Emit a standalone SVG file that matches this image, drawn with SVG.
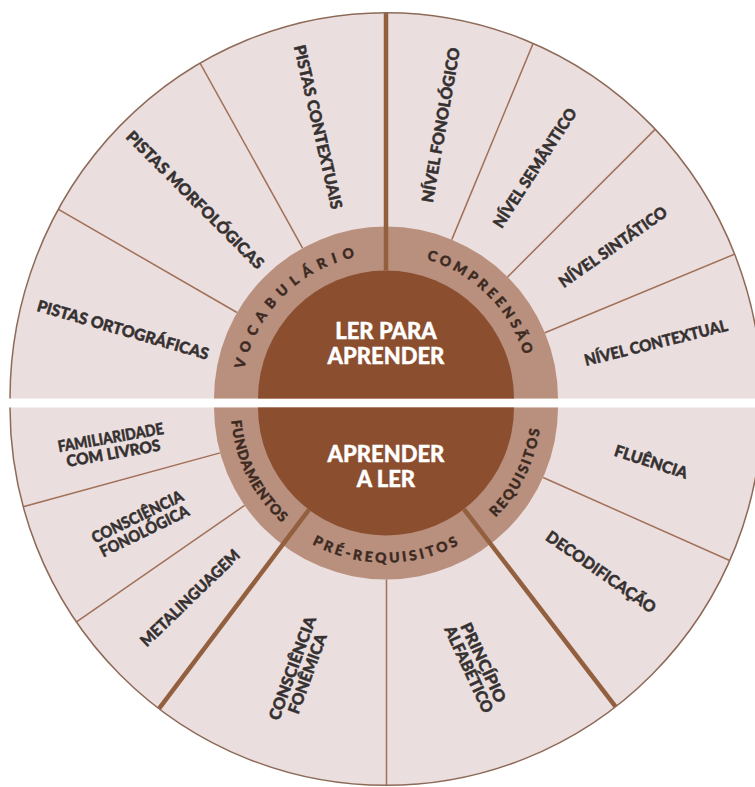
<svg xmlns="http://www.w3.org/2000/svg" width="755" height="787" viewBox="0 0 755 787">
<defs>
<style>
.band{fill:#ebdede}
.ring{fill:#b98f7d}
.core{fill:#8b4e2f}
.edge{fill:none;stroke:#8d6a57;stroke-width:1.5}
.thin{stroke:#a07058;stroke-width:1.5}
.thick{stroke:#93603f;stroke-width:4.5}
.lbl{font-family:Lato,'Open Sans',sans-serif;font-weight:900;font-size:16px;fill:#353131;stroke:#353131;stroke-width:0.45;text-anchor:middle}
.rl{font-family:Lato,'Open Sans',sans-serif;font-weight:900;font-size:14px;fill:#3b2a22;stroke:#3b2a22;stroke-width:0.4}
.ct{font-family:Lato,'Open Sans',sans-serif;font-weight:900;font-size:22px;fill:#ffffff;stroke:#ffffff;stroke-width:0.4;text-anchor:middle}
</style>
<clipPath id="clipTop"><path d="M 10 398.5 A 376 386 0 0 1 762 398.5 Z"/></clipPath>
<clipPath id="clipBot"><path d="M 10 407.5 A 376 378 0 0 0 762 407.5 Z"/></clipPath>
<path id="pVoc" d="M 241.25 398.5 A 144.75 144.75 0 0 1 386 253.75"/>
<path id="pComp" d="M 386 253.75 A 144.75 144.75 0 0 1 530.75 398.5"/>
<path id="pFund" d="M 230.75 407.5 A 155.25 155.25 0 0 0 292.57 531.48"/>
<path id="pPre" d="M 292.57 531.48 A 155.25 155.25 0 0 0 480.52 530.67"/>
<path id="pReq" d="M 480.52 530.67 A 155.25 155.25 0 0 0 541.25 407.5"/>
</defs>
<rect width="755" height="787" fill="#ffffff"/>
<g id="background">
<path class="band" d="M 10 398.5 A 376 386 0 0 1 762 398.5 Z"/>
<path class="band" d="M 10 407.5 A 376 378 0 0 0 762 407.5 Z"/>
<path class="ring" d="M 214 398.5 A 172 172 0 0 1 558 398.5 Z"/>
<path class="ring" d="M 214 407.5 A 172 172 0 0 0 558 407.5 Z"/>
<path class="core" d="M 258 398.5 A 128 128 0 0 1 514 398.5 Z"/>
<path class="core" d="M 258 407.5 A 128 128 0 0 0 514 407.5 Z"/>
</g>
<g id="connectors">
<g clip-path="url(#clipTop)">
<line class="thin" x1="302.6" y1="248.1" x2="177.5" y2="22.4"/>
<line class="thin" x1="237.0" y1="312.5" x2="13.6" y2="183.5"/>
<line class="thin" x1="451.8" y1="239.6" x2="550.6" y2="1.2"/>
<line class="thin" x1="507.6" y1="276.9" x2="690.1" y2="94.4"/>
<line class="thin" x1="544.9" y1="332.7" x2="783.3" y2="234.0"/>
<line class="thick" x1="386" y1="270.5" x2="386" y2="0"/>
</g>
<g clip-path="url(#clipBot)">
<line class="thin" x1="220.1" y1="452.9" x2="-28.8" y2="521"/>
<line class="thin" x1="244.6" y1="505.4" x2="32.5" y2="652.3"/>
<line class="thin" x1="386.5" y1="579.5" x2="386.5" y2="800"/>
<line class="thin" x1="543.1" y1="477.5" x2="778.8" y2="582.4"/>
<line class="thick" x1="309.0" y1="509.7" x2="127.2" y2="750.9"/>
<line class="thick" x1="463.9" y1="509.1" x2="647.8" y2="748.7"/>
</g>
<path class="edge" d="M 10 398.5 A 376 386 0 0 1 762 398.5"/>
<path class="edge" d="M 10 407.5 A 376 378 0 0 0 762 407.5"/>
</g>
<g id="center-top"><text class="ct"><tspan x="386" y="339">LER PARA</tspan><tspan x="386" y="364">APRENDER</tspan></text></g>
<g id="center-bottom"><text class="ct"><tspan x="386" y="462">APRENDER</tspan><tspan x="386" y="487">A LER</tspan></text></g>
<g id="ring-vocabulario"><text class="rl" letter-spacing="6.5"><textPath href="#pVoc" startOffset="51%" text-anchor="middle">VOCABULÁRIO</textPath></text></g>
<g id="ring-compreensao"><text class="rl" letter-spacing="3.5"><textPath href="#pComp" startOffset="50%" text-anchor="middle">COMPREENSÃO</textPath></text></g>
<g id="ring-fundamentos"><text class="rl" letter-spacing="0.8"><textPath href="#pFund" startOffset="50%" text-anchor="middle">FUNDAMENTOS</textPath></text></g>
<g id="ring-prerequisitos"><text class="rl" letter-spacing="3"><textPath href="#pPre" startOffset="50%" text-anchor="middle">PRÉ-REQUISITOS</textPath></text></g>
<g id="ring-requisitos"><text class="rl" letter-spacing="2"><textPath href="#pReq" startOffset="50%" text-anchor="middle">REQUISITOS</textPath></text></g>
<g id="pistas-contextuais"><text class="lbl" transform="translate(318,127) rotate(77)" y="5.5" textLength="168" lengthAdjust="spacingAndGlyphs">PISTAS CONTEXTUAIS</text></g>
<g id="pistas-morfologicas"><text class="lbl" transform="translate(195,200) rotate(45)" y="5.5" textLength="187" lengthAdjust="spacingAndGlyphs">PISTAS MORFOLÓGICAS</text></g>
<g id="pistas-ortograficas"><text class="lbl" transform="translate(123,330) rotate(16)" y="5.5" textLength="178" lengthAdjust="spacingAndGlyphs">PISTAS ORTOGRÁFICAS</text></g>
<g id="nivel-fonologico"><text class="lbl" transform="translate(441,125) rotate(-80)" y="5.5" textLength="157" lengthAdjust="spacingAndGlyphs">NÍVEL FONOLÓGICO</text></g>
<g id="nivel-semantico"><text class="lbl" transform="translate(535,168) rotate(-57)" y="5.5" textLength="139" lengthAdjust="spacingAndGlyphs">NÍVEL SEMÂNTICO</text></g>
<g id="nivel-sintatico"><text class="lbl" transform="translate(613,247) rotate(-35)" y="5.5" textLength="128" lengthAdjust="spacingAndGlyphs">NÍVEL SINTÁTICO</text></g>
<g id="nivel-contextual"><text class="lbl" transform="translate(656,343) rotate(-14)" y="5.5" textLength="147" lengthAdjust="spacingAndGlyphs">NÍVEL CONTEXTUAL</text></g>
<g id="familiaridade" transform="translate(112,445.5) rotate(-10)"><text class="lbl" y="-2.5" textLength="107" lengthAdjust="spacingAndGlyphs">FAMILIARIDADE</text><text class="lbl" y="13.5" textLength="95" lengthAdjust="spacingAndGlyphs">COM LIVROS</text></g>
<g id="consciencia-fonologica" transform="translate(141,524) rotate(-26)"><text class="lbl" y="-2.5" textLength="100" lengthAdjust="spacingAndGlyphs">CONSCIÊNCIA</text><text class="lbl" y="13.5" textLength="97" lengthAdjust="spacingAndGlyphs">FONOLÓGICA</text></g>
<g id="metalinguagem"><text class="lbl" transform="translate(190,598) rotate(-44)" y="5.5" textLength="131" lengthAdjust="spacingAndGlyphs">METALINGUAGEM</text></g>
<g id="consciencia-fonemica" transform="translate(300,671) rotate(-70)"><text class="lbl" y="-2.5" textLength="109" lengthAdjust="spacingAndGlyphs">CONSCIÊNCIA</text><text class="lbl" y="13.5" textLength="84" lengthAdjust="spacingAndGlyphs">FONÊMICA</text></g>
<g id="fluencia"><text class="lbl" transform="translate(651,462) rotate(18)" y="5.5" textLength="76" lengthAdjust="spacingAndGlyphs">FLUÊNCIA</text></g>
<g id="decodificacao"><text class="lbl" transform="translate(601,572) rotate(35)" y="5.5" textLength="130" lengthAdjust="spacingAndGlyphs">DECODIFICAÇÃO</text></g>
<g id="principio-alfabetico" transform="translate(476,666) rotate(65)"><text class="lbl" y="-2.5" textLength="86" lengthAdjust="spacingAndGlyphs">PRINCÍPIO</text><text class="lbl" y="13.5" textLength="94" lengthAdjust="spacingAndGlyphs">ALFABÉTICO</text></g>
</svg>
